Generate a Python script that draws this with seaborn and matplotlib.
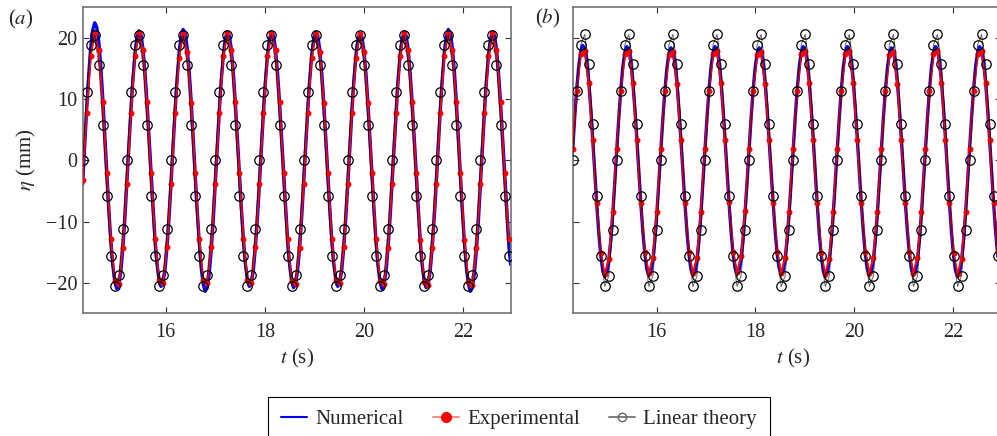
import numpy as np
import matplotlib.pyplot as plt
import seaborn as sns
from matplotlib.lines import Line2D

# sampling of the three series (s)
dt_num = 0.893 / 22
dt_pts = 0.893 / 11
t_start_a = 14.32
t_start_b = 14.30

# (a) surface elevation eta (mm)
num_a = [-3.9,
         2.2, 8.4, 13.9, 18.4, 21.3, 22.5, 21.8, 19.5, 15.5, 10.3, 4.2,
         -2.0, -7.8, -13.0, -17.1, -19.9, -21.0, -20.4, -18.2, -14.4, -9.6, -3.9,
         2.1, 7.9, 13.1, 17.3, 20.1, 21.2, 20.6, 18.3, 14.6, 9.7, 4.0,
         -2.0, -7.7, -12.8, -16.8, -19.5, -20.6, -20.0, -17.8, -14.2, -9.4, -3.9,
         2.1, 8.0, 13.2, 17.5, 20.2, 21.4, 20.8, 18.5, 14.7, 9.8, 4.0,
         -2.1, -8.0, -13.2, -17.5, -20.2, -21.4, -20.8, -18.5, -14.7, -9.8, -4.0,
         2.0, 7.8, 13.0, 17.1, 19.9, 21.0, 20.4, 18.2, 14.4, 9.6, 3.9,
         -2.0, -7.7, -12.8, -16.8, -19.5, -20.6, -20.0, -17.8, -14.2, -9.4, -3.9,
         2.0, 7.8, 13.0, 17.1, 19.9, 21.0, 20.4, 18.2, 14.4, 9.6, 3.9,
         -2.0, -7.8, -12.9, -17.0, -19.7, -20.8, -20.2, -18.0, -14.3, -9.5, -3.9,
         2.0, 7.8, 13.0, 17.1, 19.9, 21.0, 20.4, 18.2, 14.4, 9.6, 3.9,
         -2.0, -7.7, -12.8, -16.8, -19.5, -20.6, -20.0, -17.8, -14.2, -9.4, -3.9,
         2.0, 7.8, 12.9, 17.0, 19.7, 20.8, 20.2, 18.0, 14.3, 9.5, 3.9,
         -2.0, -7.8, -13.0, -17.1, -19.9, -21.0, -20.4, -18.2, -14.4, -9.6, -3.9,
         2.0, 7.8, 13.0, 17.1, 19.9, 21.0, 20.4, 18.2, 14.4, 9.6, 3.9,
         -2.0, -7.8, -12.9, -17.0, -19.7, -20.8, -20.2, -18.0, -14.3, -9.5, -3.9,
         2.1, 8.0, 13.2, 17.5, 20.2, 21.4, 20.8, 18.5, 14.7, 9.8, 4.0,
         -2.1, -8.0, -13.2, -17.5, -20.2, -21.4, -20.8, -18.5, -14.7, -9.8, -4.0,
         2.0, 7.8, 13.0, 17.1, 19.9, 21.0, 20.4, 18.2, 14.4, 9.6, 3.9,
         -2.0, -7.8, -12.9, -17.0]

exp_a = [-3.2,
         7.8, 17.0, 20.8, 18.0, 9.5, -2.0, -12.9, -19.7, -20.2, -14.3, -3.9,
         7.8, 17.0, 20.8, 18.0, 9.5, -2.0, -12.8, -19.5, -20.0, -14.2, -3.9,
         7.7, 16.8, 20.6, 17.8, 9.4, -2.0, -12.8, -19.5, -20.0, -14.2, -3.9,
         7.8, 17.0, 20.8, 18.0, 9.5, -2.0, -12.8, -19.5, -20.0, -14.2, -3.9,
         7.8, 17.0, 20.8, 18.0, 9.5, -2.0, -12.9, -19.7, -20.2, -14.3, -3.9,
         7.7, 16.8, 20.6, 17.8, 9.4, -2.0, -12.8, -19.5, -20.0, -14.2, -3.9,
         7.7, 16.8, 20.6, 17.8, 9.4, -2.0, -12.9, -19.7, -20.2, -14.3, -3.9,
         7.8, 17.0, 20.8, 18.0, 9.5, -2.0, -13.0, -19.9, -20.4, -14.4, -3.9,
         7.8, 17.0, 20.8, 18.0, 9.5, -2.0, -13.0, -19.9, -20.4, -14.4, -3.9,
         7.8, 17.0, 20.8, 18.0, 9.5, -2.0, -12.9]

lin_a = [0.0, 11.2, 18.8, 20.5, 15.6, 5.8, -5.8, -15.6, -20.5, -18.8, -11.2,
         0.0, 11.2, 18.8, 20.5, 15.6, 5.8, -5.8, -15.6, -20.5, -18.8, -11.2,
         0.0, 11.2, 18.8, 20.5, 15.6, 5.8, -5.8, -15.6, -20.5, -18.8, -11.2,
         0.0, 11.2, 18.8, 20.5, 15.6, 5.8, -5.8, -15.6, -20.5, -18.8, -11.2,
         0.0, 11.2, 18.8, 20.5, 15.6, 5.8, -5.8, -15.6, -20.5, -18.8, -11.2,
         0.0, 11.2, 18.8, 20.5, 15.6, 5.8, -5.8, -15.6, -20.5, -18.8, -11.2,
         0.0, 11.2, 18.8, 20.5, 15.6, 5.8, -5.8, -15.6, -20.5, -18.8, -11.2,
         0.0, 11.2, 18.8, 20.5, 15.6, 5.8, -5.8, -15.6, -20.5, -18.8, -11.2,
         0.0, 11.2, 18.8, 20.5, 15.6, 5.8, -5.8, -15.6, -20.5, -18.8, -11.2,
         0.0, 11.2, 18.8, 20.5, 15.6, 5.8, -5.8, -15.6]

# (b)
num_b = [1.8, 7.0, 11.6, 15.3, 17.8, 18.8, 18.3, 16.3, 12.9, 8.6, 3.5,
         -1.8, -7.1, -11.8, -15.5, -18.0, -19.0, -18.4, -16.4, -13.1, -8.7, -3.6,
         1.8, 6.9, 11.5, 15.2, 17.6, 18.6, 18.1, 16.1, 12.8, 8.5, 3.5,
         -1.8, -7.0, -11.6, -15.3, -17.8, -18.8, -18.3, -16.3, -12.9, -8.6, -3.5,
         1.8, 6.9, 11.4, 15.0, 17.4, 18.4, 17.9, 15.9, 12.7, 8.4, 3.4,
         -1.8, -7.0, -11.6, -15.3, -17.8, -18.8, -18.3, -16.3, -12.9, -8.6, -3.5,
         1.8, 6.9, 11.5, 15.2, 17.6, 18.6, 18.1, 16.1, 12.8, 8.5, 3.5,
         -1.8, -6.9, -11.5, -15.2, -17.6, -18.6, -18.1, -16.1, -12.8, -8.5, -3.5,
         1.8, 6.9, 11.4, 15.0, 17.4, 18.4, 17.9, 15.9, 12.7, 8.4, 3.4,
         -1.8, -6.9, -11.5, -15.2, -17.6, -18.6, -18.1, -16.1, -12.8, -8.5, -3.5,
         1.8, 6.9, 11.5, 15.2, 17.6, 18.6, 18.1, 16.1, 12.8, 8.5, 3.5,
         -1.8, -7.1, -11.8, -15.5, -18.0, -19.0, -18.4, -16.4, -13.1, -8.7, -3.6,
         1.8, 6.9, 11.5, 15.2, 17.6, 18.6, 18.1, 16.1, 12.8, 8.5, 3.5,
         -1.8, -7.0, -11.6, -15.3, -17.8, -18.8, -18.3, -16.3, -12.9, -8.6, -3.5,
         1.8, 6.9, 11.4, 15.0, 17.4, 18.4, 17.9, 15.9, 12.7, 8.4, 3.4,
         -1.8, -7.0, -11.6, -15.3, -17.8, -18.8, -18.3, -16.3, -12.9, -8.6, -3.5,
         1.8, 6.9, 11.5, 15.2, 17.6, 18.6, 18.1, 16.1, 12.8, 8.5, 3.5,
         -1.8, -7.1, -11.8, -15.5, -18.0, -19.0, -18.4, -16.4, -13.1, -8.7, -3.6,
         1.8, 6.9, 11.5, 15.2, 17.6, 18.6, 18.1, 16.1, 12.8, 8.5, 3.5,
         -1.8, -7.0, -11.6, -15.3, -17.8]

exp_b = [1.8, 11.4, 17.4, 17.9, 12.7, 3.4, -6.9, -15.2, -18.6, -16.1, -8.5,
         1.8, 11.4, 17.4, 17.9, 12.7, 3.4, -6.9, -15.0, -18.4, -15.9, -8.4,
         1.8, 11.3, 17.2, 17.7, 12.5, 3.4, -6.9, -15.0, -18.4, -15.9, -8.4,
         1.8, 11.4, 17.4, 17.9, 12.7, 3.4, -6.8, -14.9, -18.2, -15.7, -8.3,
         1.8, 11.3, 17.2, 17.7, 12.5, 3.4, -6.9, -15.0, -18.4, -15.9, -8.4,
         1.8, 11.4, 17.4, 17.9, 12.7, 3.4, -6.9, -15.2, -18.6, -16.1, -8.5,
         1.8, 11.4, 17.4, 17.9, 12.7, 3.4, -6.9, -15.0, -18.4, -15.9, -8.4,
         1.8, 11.3, 17.2, 17.7, 12.5, 3.4, -6.9, -15.0, -18.4, -15.9, -8.4,
         1.8, 11.4, 17.4, 17.9, 12.7, 3.4, -6.9, -15.2, -18.6, -16.1, -8.5,
         1.8, 11.4, 17.4, 17.9, 12.7, 3.4, -6.9, -15.0]

lin_b = [0.0, 11.3, 18.9, 20.6, 15.7, 5.9, -5.9, -15.7, -20.6, -18.9, -11.3,
         0.0, 11.3, 18.9, 20.6, 15.7, 5.9, -5.9, -15.7, -20.6, -18.9, -11.3,
         0.0, 11.3, 18.9, 20.6, 15.7, 5.9, -5.9, -15.7, -20.6, -18.9, -11.3,
         0.0, 11.3, 18.9, 20.6, 15.7, 5.9, -5.9, -15.7, -20.6, -18.9, -11.3,
         0.0, 11.3, 18.9, 20.6, 15.7, 5.9, -5.9, -15.7, -20.6, -18.9, -11.3,
         0.0, 11.3, 18.9, 20.6, 15.7, 5.9, -5.9, -15.7, -20.6, -18.9, -11.3,
         0.0, 11.3, 18.9, 20.6, 15.7, 5.9, -5.9, -15.7, -20.6, -18.9, -11.3,
         0.0, 11.3, 18.9, 20.6, 15.7, 5.9, -5.9, -15.7, -20.6, -18.9, -11.3,
         0.0, 11.3, 18.9, 20.6, 15.7, 5.9, -5.9, -15.7, -20.6, -18.9, -11.3,
         0.0, 11.3, 18.9, 20.6, 15.7, 5.9, -5.9, -15.7]

x_ticks = [16, 18, 20, 22]
y_ticks = [-20, -10, 0, 10, 20]
labels = ['Numerical', 'Experimental', 'Linear theory']

sns.set_style('ticks')
plt.rcParams['font.family'] = ['Liberation Serif', 'DejaVu Serif']
plt.rcParams['mathtext.fontset'] = 'stix'

fig = plt.figure(figsize=(9.97, 4.36), dpi=100)
ax_a = fig.add_axes([0.0829, 0.2814, 0.4299, 0.7014])
ax_b = fig.add_axes([0.5744, 0.2814, 0.4299, 0.7014])

panels = [(ax_a, t_start_a, num_a, exp_a, lin_a, 14.32, 22.98),
          (ax_b, t_start_b, num_b, exp_b, lin_b, 14.30, 22.98)]

for ax, t0, num, exp, lin, x0, x1 in panels:
    t_num = t0 + np.arange(len(num)) * dt_num
    t_exp = t0 + np.arange(len(exp)) * dt_pts
    t_lin = t0 + np.arange(len(lin)) * dt_pts

    sns.lineplot(x=t_num, y=num, ax=ax, color='blue', lw=2.4,
                 sort=False, estimator=None, zorder=2)
    sns.lineplot(x=t_exp, y=exp, ax=ax, color='red', lw=1.4, marker='o',
                 markersize=4.3, markeredgewidth=0, sort=False, estimator=None, zorder=3)
    sns.lineplot(x=t_lin, y=lin, ax=ax, color='black', lw=0.7, marker='o',
                 markersize=6.8, markerfacecolor='none', markeredgecolor='black',
                 markeredgewidth=0.9, sort=False, estimator=None, zorder=4)
    ax.lines[-1].set_color((0, 0, 0, 0.6))
    ax.lines[-1].set_markeredgecolor('black')

    ax.set_xlim(x0, x1)
    ax.set_ylim(-25, 25)
    ax.set_xticks(x_ticks)
    ax.set_yticks(y_ticks)
    ax.set_xlabel('')
    ax.set_ylabel('')
    ax.tick_params(direction='in', top=True, right=True, length=4, width=0.8,
                   labelsize=14.5, color='0.2')
    ax.tick_params(axis='x', pad=7)
    ax.tick_params(axis='y', pad=4)
    for sp in ax.spines.values():
        sp.set_color('0.45')
        sp.set_linewidth(1.2)

ax_b.tick_params(labelleft=False)

fig.text(21 / 997, 1 - 19 / 436, '($a$)', ha='center', va='center', fontsize=15)
fig.text(548 / 997, 1 - 18 / 436, '($b$)', ha='center', va='center', fontsize=15)
fig.text(26 / 997, 1 - 160 / 436, r'$\eta$ (mm)', rotation=90,
         ha='center', va='center', fontsize=15)
fig.text(297 / 997, 1 - 358 / 436, '$t$ (s)', ha='center', va='center', fontsize=15)
fig.text(793 / 997, 1 - 358 / 436, '$t$ (s)', ha='center', va='center', fontsize=15)

handles = [Line2D([], [], color='blue', lw=1.5),
           Line2D([], [], color=(1, 0, 0, 0.5), lw=1.3, marker='o', markersize=7,
                  markerfacecolor='red', markeredgecolor='red'),
           Line2D([], [], color='0.45', lw=1.3, marker='o', markersize=6,
                  markerfacecolor='none', markeredgecolor='0.4', markeredgewidth=1.0)]
leg = fig.legend(handles, labels, loc='upper center', bbox_to_anchor=(0.5206, 0.0894),
                 ncol=3, fontsize=15, frameon=True, fancybox=False, framealpha=1,
                 edgecolor='black', handlelength=1.25, handletextpad=0.4,
                 columnspacing=1.4, borderpad=0.6, borderaxespad=0)
leg.get_frame().set_linewidth(0.8)

fig.savefig('out.png', dpi=100)
